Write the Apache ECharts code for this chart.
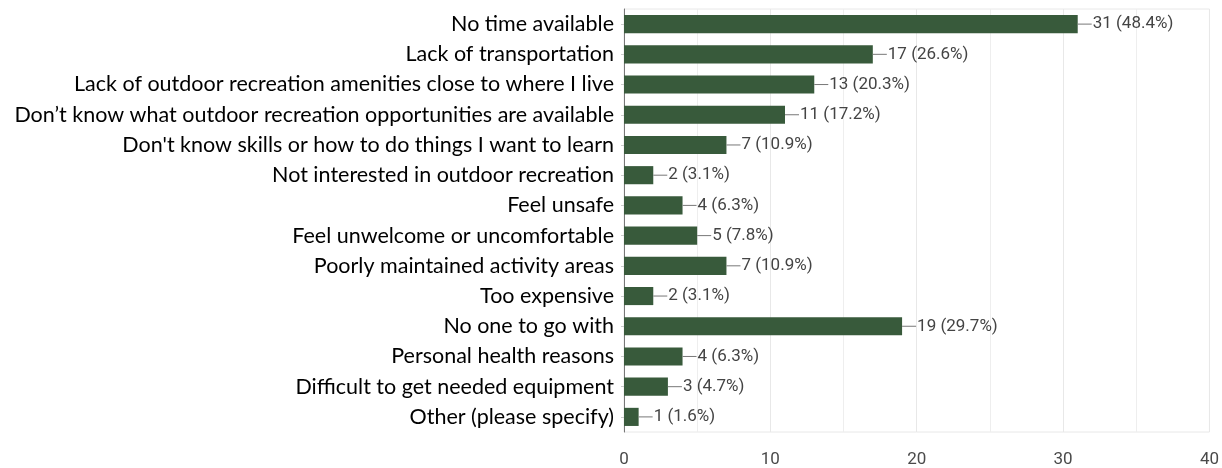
<!DOCTYPE html>
<html><head><meta charset="utf-8">
<script src="https://cdn.jsdelivr.net/npm/echarts@6/dist/echarts.min.js"></script>
<style>html,body{margin:0;padding:0;background:#fff;}#c{width:1222px;height:468px;}</style>
</head><body><div id="c"></div>
<script>
const categories = [
  "No time available",
  "Lack of transportation",
  "Lack of outdoor recreation amenities close to where I live",
  "Don’t know what outdoor recreation opportunities are available",
  "Don't know skills or how to do things I want to learn",
  "Not interested in outdoor recreation",
  "Feel unsafe",
  "Feel unwelcome or uncomfortable",
  "Poorly maintained activity areas",
  "Too expensive",
  "No one to go with",
  "Personal health reasons",
  "Difficult to get needed equipment",
  "Other (please specify)"
];
const counts = [31, 17, 13, 11, 7, 2, 4, 5, 7, 2, 19, 4, 3, 1];
const percents = ["48.4", "26.6", "20.3", "17.2", "10.9", "3.1", "6.3", "7.8", "10.9", "3.1", "29.7", "6.3", "4.7", "1.6"];
const xTicks = [0, 10, 20, 30, 40];

const chart = echarts.init(document.getElementById('c'), null, {renderer: 'canvas'});
chart.setOption({
  animation: false,
  grid: {left: 624, right: 9, top: 9, bottom: 36, show: true, borderColor: '#e8e8e8', borderWidth: 1},
  xAxis: {
    type: 'value', min: xTicks[0], max: xTicks[xTicks.length - 1], interval: 10,
    axisLine: {show: false}, axisTick: {show: false},
    splitLine: {show: true, lineStyle: {color: '#e8e8e8'}},
    minorTick: {show: false, splitNumber: 2},
    minorSplitLine: {show: true, lineStyle: {color: '#eeeeee'}},
    axisLabel: {color: '#4a4a4a', fontFamily: 'Roboto', fontSize: 17, margin: 19}
  },
  yAxis: {
    type: 'category', data: categories, inverse: true,
    axisLine: {show: true, lineStyle: {color: '#777', width: 1}},
    axisTick: {show: true, length: 3, lineStyle: {color: '#ccc'}, alignWithLabel: true},
    axisLabel: {color: '#000', fontFamily: 'Lato', fontSize: 21.5, margin: 10}
  },
  series: [{
    type: 'bar', data: counts, barCategoryGap: '40%',
    itemStyle: {color: '#385a3b'},
    label: {
      show: true, position: 'right', distance: 0,
      formatter: p => '{l|}{t|' + counts[p.dataIndex] + ' (' + percents[p.dataIndex] + '%)}',
      rich: {
        l: {width: 14, height: 1, backgroundColor: '#777', verticalAlign: 'middle'},
        t: {color: '#444', fontFamily: 'Roboto', fontSize: 17, padding: [0, 0, 0, 1], verticalAlign: 'middle'}
      }
    }
  }]
});
</script></body></html>
